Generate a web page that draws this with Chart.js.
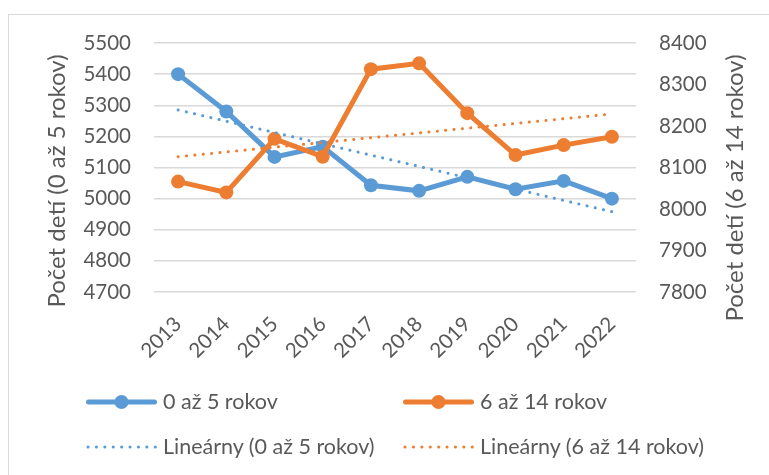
<!DOCTYPE html>
<html>
<head>
<meta charset="utf-8">
<script src="https://cdn.jsdelivr.net/npm/chart.js@4"></script>
<style>
  body { margin: 0; background: #fff; }
  #wrap { position: relative; width: 769px; height: 475px; overflow: hidden; font-family: Lato, sans-serif; color: #595959; }
  #frame { position: absolute; left: 8px; top: 14px; width: 800px; height: 500px; border: 1.5px solid #d9d9d9; box-sizing: border-box; }
  canvas { position: absolute; left: 0; top: 0; }
  .legText { position: absolute; font-size: 21.5px; line-height: 24px; white-space: nowrap; }
  .legLine { position: absolute; }
</style>
</head>
<body>
<div id="wrap">
  <div id="frame"></div>
  <canvas id="grafDeti" width="769" height="475"></canvas>
  <div id="legenda"></div>
</div>
<script>
  // Roky a počty detí
  const roky = ['2013','2014','2015','2016','2017','2018','2019','2020','2021','2022'];
  const deti0az5 = [5400, 5280, 5134, 5167, 5043, 5025, 5070, 5030, 5057, 5000];
  const deti6az14 = [8066, 8040, 8169, 8126, 8337, 8351, 8231, 8130, 8154, 8174];

  // Lineárne trendy: hodnota v prvom a poslednom roku
  const trend0az5 = [5285, 4958];
  const trend6az14 = [8126, 8229];

  const nazvy = ['0 až 5 rokov', '6 až 14 rokov', 'Lineárny (0 až 5 rokov)', 'Lineárny (6 až 14 rokov)'];
  const tickyLava = [4700, 4800, 4900, 5000, 5100, 5200, 5300, 5400, 5500];
  const tickyPrava = [7800, 7900, 8000, 8100, 8200, 8300, 8400];
  const titulLavy = 'Počet detí (0 až 5 rokov)';
  const titulPravy = 'Počet detí (6 až 14 rokov)';

  const modra = '#5b9bd5';
  const oranzova = '#ed7d31';
  const seda = '#595959';

  // trend ako čiara medzi prvým a posledným rokom
  function trendData(t) {
    return roky.map((r, i) => i === 0 ? t[0] : (i === roky.length - 1 ? t[1] : null));
  }

  // nadpisy osí, oba čítané zdola nahor
  const nadpisyOsi = {
    id: 'nadpisyOsi',
    afterDraw(chart) {
      const ctx = chart.ctx;
      ctx.save();
      ctx.font = '24px Lato';
      ctx.fillStyle = seda;
      ctx.textAlign = 'center';
      ctx.textBaseline = 'middle';
      [[57, 181, titulLavy], [735, 188, titulPravy]].forEach(([x, y, t]) => {
        ctx.save();
        ctx.translate(x, y);
        ctx.rotate(-Math.PI / 2);
        ctx.fillText(t, 0, 0);
        ctx.restore();
      });
      ctx.restore();
    }
  };

  const ctx = document.getElementById('grafDeti').getContext('2d');
  new Chart(ctx, {
    type: 'line',
    data: {
      labels: roky,
      datasets: [
        {
          label: nazvy[0], data: deti0az5, yAxisID: 'y', order: 4,
          borderColor: modra, backgroundColor: modra, borderWidth: 5,
          pointRadius: 7, pointBorderWidth: 0, pointBackgroundColor: modra
        },
        {
          label: nazvy[1], data: deti6az14, yAxisID: 'y2', order: 3,
          borderColor: oranzova, backgroundColor: oranzova, borderWidth: 5,
          pointRadius: 7, pointBorderWidth: 0, pointBackgroundColor: oranzova
        },
        {
          label: nazvy[2], data: trendData(trend0az5), yAxisID: 'y', order: 2,
          borderColor: modra, borderWidth: 3, borderDash: [0.1, 8.3], borderCapStyle: 'round',
          pointRadius: 0, spanGaps: true
        },
        {
          label: nazvy[3], data: trendData(trend6az14), yAxisID: 'y2', order: 1,
          borderColor: oranzova, borderWidth: 3, borderDash: [0.1, 8.3], borderCapStyle: 'round',
          pointRadius: 0, spanGaps: true
        }
      ]
    },
    options: {
      responsive: false,
      animation: false,
      layout: { padding: { left: 45, right: 22, top: 43, bottom: 103 } },
      plugins: {
        legend: { display: false },
        tooltip: { enabled: false }
      },
      scales: {
        x: {
          offset: true,
          grid: { display: false },
          border: { display: false },
          ticks: { color: seda, font: { family: 'Lato', size: 20.5 }, minRotation: 45, maxRotation: 45, padding: 12 },
          afterFit: s => { s.height = 80; }
        },
        y: {
          position: 'left', min: 4700, max: 5500,
          afterBuildTicks: s => { s.ticks = tickyLava.map(v => ({ value: v })); },
          grid: { color: '#d9d9d9', lineWidth: 1.5, drawTicks: false },
          border: { display: false },
          ticks: { color: seda, font: { family: 'Lato', size: 20.5 }, padding: 23, callback: v => String(v) },
          afterFit: s => { s.width = 109; }
        },
        y2: {
          position: 'right', min: 7800, max: 8400,
          afterBuildTicks: s => { s.ticks = tickyPrava.map(v => ({ value: v })); },
          grid: { display: false, drawTicks: false },
          border: { display: false },
          ticks: { color: seda, font: { family: 'Lato', size: 20.5 }, padding: 23, callback: v => String(v) },
          afterFit: s => { s.width = 111; }
        }
      }
    },
    plugins: [nadpisyOsi]
  });

  // Legenda pod grafom
  const legenda = document.getElementById('legenda');
  const polozky = [
    { text: nazvy[0], farba: modra, plna: true, x: 86, y: 402 },
    { text: nazvy[1], farba: oranzova, plna: true, x: 403, y: 402 },
    { text: nazvy[2], farba: modra, plna: false, x: 86, y: 447 },
    { text: nazvy[3], farba: oranzova, plna: false, x: 403, y: 447 }
  ];
  polozky.forEach(p => {
    const w = 71;
    let svg = '<svg class="legLine" width="' + w + '" height="16" style="left:' + p.x + 'px;top:' + (p.y - 8) + 'px">';
    if (p.plna) {
      svg += '<line x1="2.5" y1="8" x2="' + (w - 2.5) + '" y2="8" stroke="' + p.farba + '" stroke-width="5" stroke-linecap="round"/>';
      svg += '<circle cx="' + (w / 2) + '" cy="8" r="7" fill="' + p.farba + '"/>';
    } else {
      svg += '<line x1="2" y1="8" x2="' + (w - 1) + '" y2="8" stroke="' + p.farba + '" stroke-width="3" stroke-linecap="round" stroke-dasharray="0.1 8.3"/>';
    }
    svg += '</svg>';
    legenda.insertAdjacentHTML('beforeend', svg);
    const t = document.createElement('div');
    t.className = 'legText';
    t.textContent = p.text;
    t.style.left = (p.x + w + 6) + 'px';
    t.style.top = (p.y - 13) + 'px';
    legenda.appendChild(t);
  });
</script>
</body>
</html>
